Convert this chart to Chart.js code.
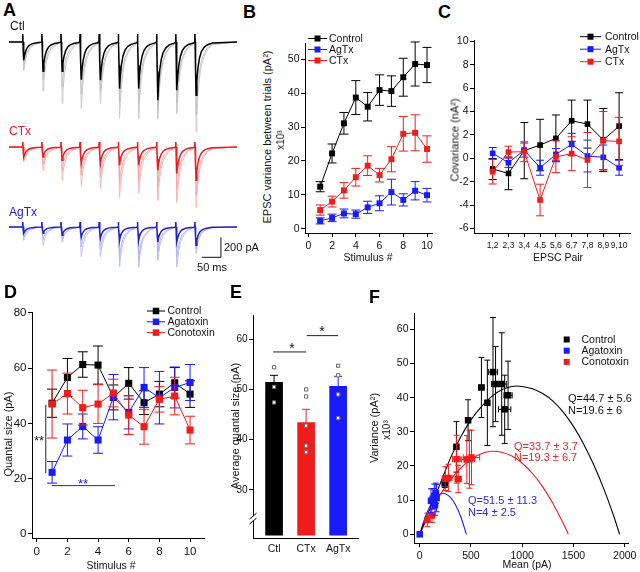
<!DOCTYPE html>
<html>
<head>
<meta charset="utf-8">
<script src="https://cdn.jsdelivr.net/npm/chart.js@4.4.1/dist/chart.umd.min.js"></script>
<style>
  body { margin: 0; background: #fff; }
  #fig { position: relative; width: 640px; height: 572px; overflow: hidden; font-family: "Liberation Sans", Arial, sans-serif; }
  #fig canvas { position: absolute; }
  .t { position: absolute; white-space: nowrap; line-height: 1; }
</style>
</head>
<body>
<div id="fig"></div>
<script>
// ---------- A: EPSC trains (peak amplitudes in pA) ----------
const stimTimes = [0, 50, 100, 150, 200, 250, 300, 350, 400, 450];
const ctlMean   = [183, 293, 293, 376, 383, 466, 466, 583, 483, 533];
const ctlTrialA = [283, 490, 616, 666, 616, 756, 766, 766, 716, 900];
const ctlTrialB = [240, 380, 450, 520, 500, 600, 620, 680, 600, 720];
const ctxMean   = [100, 100, 133, 166, 166, 183, 183, 233, 266, 333];
const ctxTrialA = [150, 233, 333, 383, 413, 503, 463, 533, 553, 603];
const ctxTrialB = [120, 170, 230, 280, 300, 360, 330, 400, 420, 480];
const agaMean   = [63, 63, 83, 100, 113, 133, 133, 150, 150, 183];
const agaTrialA = [133, 183, 150, 300, 300, 400, 400, 333, 400, 263];
const agaTrialB = [100, 130, 120, 200, 220, 300, 330, 250, 300, 220];
// one EPSC: ms after the stimulus, and fraction of the peak
const epscT     = [0, 0.8, 1.6, 2.6, 4, 6, 9, 13, 18, 25, 34, 47];
const epscMean  = [0, 0, 0, -0.5, -1, -0.72, -0.48, -0.3, -0.18, -0.1, -0.05, -0.02];
const epscTrial = [0, 0, 0, -0.45, -1, -0.8, -0.58, -0.4, -0.26, -0.16, -0.08, -0.03];
const artifactPA = [80, 50, 50];   // Ctl, CTx, AgTx

// ---------- B: variance between trials (x10^3 pA^2) ----------
const stimNum     = [1, 2, 3, 4, 5, 6, 7, 8, 9, 10];
const bControl    = [12.4, 22.2, 31.1, 38.7, 36.0, 40.9, 40.6, 44.7, 48.6, 48.3];
const bControlErr = [1.5, 2.8, 3.2, 5.0, 4.2, 4.5, 4.5, 5.6, 6.5, 5.2];
const bAgTx       = [2.3, 3.2, 4.5, 4.3, 6.3, 7.5, 10.8, 8.5, 11.2, 9.9];
const bAgTxErr    = [0.9, 1.1, 1.3, 1.2, 1.8, 2.2, 3.8, 1.8, 2.7, 2.0];
const bCTx        = [5.5, 8.0, 11.3, 15.2, 18.6, 15.8, 20.5, 28.0, 28.3, 23.5];
const bCTxErr     = [1.5, 1.6, 2.3, 2.6, 2.9, 2.0, 3.7, 5.1, 5.3, 3.9];
const bTicksX = [0, 2, 4, 6, 8, 10];
const bTicksY = [0, 10, 20, 30, 40, 50];
const bLabels = ['Control', 'AgTx', 'CTx'];

// ---------- C: covariance (nA^2) ----------
const cPairs      = ['1,2', '2,3', '3,4', '4,5', '5,6', '6,7', '7,8', '8,9', '9,10'];
const cControl    = [-0.91, -1.28, 0.66, 1.14, 1.71, 3.22, 2.93, 1.57, 2.76];
const cControlErr = [0.9, 1.4, 2.4, 2.2, 2.0, 1.76, 2.05, 2.7, 2.85];
const cAgTx       = [0.43, -0.37, 0.71, -0.8, 0.34, 1.2, 0.2, 0.09, -0.8];
const cAgTxErr    = [0.5, 0.4, 0.6, 0.64, 0.5, 0.94, 1.36, 1.05, 0.64];
const cCTx        = [-1.14, 0.54, 0.57, -3.56, 0.14, 0.4, -0.14, 1.51, 1.45];
const cCTxErr     = [1.05, 0.5, 0.85, 1.35, 1.36, 1.45, 2.35, 2.5, 2.05];
const cTicksY = [-6, -4, -2, 0, 2, 4, 6, 8, 10];

// ---------- D: quantal size (pA) ----------
const dControl    = [47.3, 56.6, 61.3, 61.1, 49.4, 54.5, 47.5, 50.6, 54.7, 50.6];
const dControlErr = [5.1, 6.9, 4.6, 6.9, 4.5, 5.7, 4.3, 4.6, 5.5, 4.8];
const dAga        = [22.3, 34.0, 38.9, 34.0, 49.5, 44.0, 53.0, 49.3, 53.0, 54.8];
const dAgaErr     = [3.9, 5.8, 4.5, 4.8, 8.2, 6.0, 7.2, 9.5, 7.4, 6.5];
const dCono       = [47.0, 50.8, 45.7, 47.0, 51.0, 43.0, 38.8, 48.7, 49.9, 37.6];
const dConoErr    = [12.3, 7.4, 6.3, 7.0, 5.0, 7.0, 6.3, 4.6, 6.8, 5.0];
const dTicksX = [0, 2, 4, 6, 8, 10];
const dTicksY = [0, 20, 40, 60, 80];
const dLabels = ['Control', 'Agatoxin', 'Conotoxin'];

// ---------- E: average quantal size (pA) ----------
const eGroups = ['Ctl', 'CTx', 'AgTx'];
const eMean   = [51.4, 43.4, 50.6];
const eSem    = [1.4, 2.65, 2.0];
const eCells  = [[54.4, 50.5, 47.4], [50.0, 48.6, 42.8, 38.8, 37.5], [54.7, 52.8, 49.0, 44.3]];
const eTicksY = [30, 40, 50, 60];

// ---------- F: variance-mean (mean pA, variance x10^3 pA^2) ----------
const fCtlMean    = [244, 358, 472, 602, 660, 715, 740, 800, 829, 862];
const fCtlVar     = [14.9, 25.6, 33.4, 43.0, 38.5, 47.5, 44.0, 44.0, 36.6, 40.7];
const fCtlMeanErr = [15, 20, 20, 25, 20, 45, 40, 45, 60, 40];
const fCtlVarErr  = [1.2, 7.4, 6.0, 8.8, 12.5, 16, 11, 15, 10, 10];
const fCtxMean    = [75, 120, 250, 280, 360, 375, 460, 485, 505];
const fCtxVar     = [4.2, 5.5, 16.3, 16.5, 22.0, 16.2, 21.9, 22.0, 22.5];
const fCtxMeanErr = [20, 15, 30, 35, 40, 30, 50, 50, 80];
const fCtxVarErr  = [2, 2, 3.5, 4, 7, 4, 7, 8.5, 8];
const fAgaMean    = [0, 110, 128, 143, 158, 150, 165];
const fAgaVar     = [0, 9.8, 10.4, 11.2, 12.0, 8.6, 10.6];
const fAgaMeanErr = [0, 15, 12, 15, 20, 15, 15];
const fAgaVarErr  = [0, 3.5, 3, 3.5, 3, 3, 4];
const fCtlFitX = [0, 100, 200, 300, 400, 500, 600, 700, 800, 900, 1000, 1100, 1200, 1300, 1400, 1500, 1600, 1700, 1800, 1900, 1950];
const fCtlFitY = [0, 7.5, 14.8, 22.3, 28.5, 33.5, 37.3, 40.3, 42.3, 43.3, 43.3, 42.6, 41.2, 39, 35.8, 31.6, 26.4, 20.2, 13, 4.7, 0];
const fCtxFitX = [0, 100, 200, 300, 400, 500, 600, 700, 800, 900, 1000, 1100, 1200, 1300, 1400, 1450];
const fCtxFitY = [0, 6.2, 11.6, 16, 19.4, 22, 23.6, 24.3, 24, 22.9, 20.8, 17.8, 13.9, 9, 3.2, 0];
const fAgaFitX = [0, 50, 100, 150, 200, 250, 300, 350, 400, 455];
const fAgaFitY = [0, 4.7, 8.2, 10.6, 11.8, 11.9, 10.8, 8.6, 5.2, 0];
const fTicksX = [0, 500, 1000, 1500, 2000];
const fTicksY = [0, 10, 20, 30, 40, 50, 60];
const fLabels = ['Control', 'Agatoxin', 'Conotoxin'];

// ---------------------------------------------------------------------------
const FONT = '"Liberation Sans", Arial, sans-serif';
const BLACK = '#000000', RED = '#f01c1c', BLUE = '#1a1aff';
const fig = document.getElementById('fig');
Chart.defaults.font.family = FONT;
Chart.defaults.color = '#111';

// error bars drawn under each dataset, through its scales
Chart.register({
  id: 'errorBars',
  beforeDatasetDraw(chart, args) {
    const ds = chart.data.datasets[args.index];
    if (!ds.errY && !ds.errX) return;
    const xs = chart.scales.x, ys = chart.scales.y, ctx = chart.ctx;
    const cap = ds.cap ?? 4;
    ctx.save();
    ctx.lineWidth = 1;
    ds.data.forEach((p, i) => {
      ctx.strokeStyle = Array.isArray(ds.errColor) ? ds.errColor[i] : (ds.errColor || ds.borderColor);
      const px = xs.getPixelForValue(p.x), py = ys.getPixelForValue(p.y);
      ctx.beginPath();
      if (ds.errY && ds.errY[i]) {
        const t = ys.getPixelForValue(p.y + ds.errY[i]);
        const b = ds.upOnly ? py : ys.getPixelForValue(p.y - ds.errY[i]);
        ctx.moveTo(px, t); ctx.lineTo(px, b);
        ctx.moveTo(px - cap, t); ctx.lineTo(px + cap, t);
        if (!ds.upOnly) { ctx.moveTo(px - cap, b); ctx.lineTo(px + cap, b); }
      }
      if (ds.errX && ds.errX[i]) {
        const l = xs.getPixelForValue(p.x - ds.errX[i]), r = xs.getPixelForValue(p.x + ds.errX[i]);
        ctx.moveTo(l, py); ctx.lineTo(r, py);
        ctx.moveTo(l, py - cap); ctx.lineTo(l, py + cap);
        ctx.moveTo(r, py - cap); ctx.lineTo(r, py + cap);
      }
      ctx.stroke();
    });
    ctx.restore();
  }
});

// legend: line + square (or square only), placed in page pixels
Chart.register({
  id: 'key',
  afterDraw(chart, args, o) {
    if (!o || !o.labels) return;
    const ctx = chart.ctx, ox = chart.canvas.offsetLeft, oy = chart.canvas.offsetTop;
    ctx.save();
    ctx.font = o.size + 'px ' + FONT;
    ctx.textBaseline = 'middle';
    o.labels.forEach((lab, i) => {
      const y = o.y + i * o.dy - oy, x = o.x - ox;
      ctx.strokeStyle = ctx.fillStyle = o.colors[i];
      ctx.lineWidth = 1;
      if (o.len) { ctx.beginPath(); ctx.moveTo(x, y); ctx.lineTo(x + o.len, y); ctx.stroke(); }
      const cx = x + (o.len || 0) / 2;
      ctx.fillRect(cx - o.sq / 2, y - o.sq / 2, o.sq, o.sq);
      ctx.fillStyle = '#111';
      ctx.fillText(lab, o.textX - ox, y + 0.5);
    });
    ctx.restore();
  }
});

// extra lines (significance bars, axis break) in data units
Chart.register({
  id: 'marks',
  afterDatasetsDraw(chart, args, o) {
    if (!o || !o.lines) return;
    const xs = chart.scales.x, ys = chart.scales.y, ctx = chart.ctx;
    ctx.save();
    ctx.lineWidth = 1;
    o.lines.forEach(m => {
      ctx.strokeStyle = m.color;
      ctx.beginPath();
      ctx.moveTo(xs.getPixelForValue(m.x1), ys.getPixelForValue(m.y1));
      ctx.lineTo(xs.getPixelForValue(m.x2), ys.getPixelForValue(m.y2));
      ctx.stroke();
    });
    if (o.brk != null) {
      const x = chart.chartArea.left, y = ys.getPixelForValue(o.brk);
      ctx.fillStyle = '#fff';
      ctx.fillRect(x - 2, y - 2.5, 4, 5);
      ctx.strokeStyle = '#000';
      ctx.beginPath();
      ctx.moveTo(x - 3.5, y + 0.5); ctx.lineTo(x + 3.5, y - 5.5);
      ctx.moveTo(x - 3.5, y + 5.5); ctx.lineTo(x + 3.5, y - 0.5);
      ctx.stroke();
    }
    ctx.restore();
  }
});

// scale bar for the traces
Chart.register({
  id: 'scaleBar',
  afterDraw(chart, args, o) {
    if (!o || o.ms == null) return;
    const xs = chart.scales.x, ys = chart.scales.y, ctx = chart.ctx;
    const x2 = xs.getPixelForValue(o.x), x1 = xs.getPixelForValue(o.x - o.ms);
    const y1 = ys.getPixelForValue(o.y), y2 = ys.getPixelForValue(o.y + o.pA);
    ctx.save();
    ctx.strokeStyle = '#111';
    ctx.lineWidth = 1;
    ctx.beginPath();
    ctx.moveTo(x1, y1); ctx.lineTo(x2, y1); ctx.lineTo(x2, y2);
    ctx.stroke();
    ctx.restore();
  }
});

function makeChart(area, gut, cfg) {
  const [l, t, r, b] = gut;
  const w = area[2] - area[0] + l + r, h = area[3] - area[1] + t + b;
  const cv = document.createElement('canvas');
  cv.width = w; cv.height = h;
  Object.assign(cv.style, { left: (area[0] - l) + 'px', top: (area[1] - t) + 'px', width: w + 'px', height: h + 'px' });
  fig.appendChild(cv);
  cfg.options = Object.assign({ responsive: false, animation: false, events: [],
    layout: { padding: { left: 0, top: t, right: r, bottom: 0 } } }, cfg.options);
  const sc = cfg.options.scales;
  if (sc.x.display !== false) sc.x.afterFit = s => { s.height = b; s.paddingLeft = 0; s.paddingRight = 0; };
  if (sc.y.display !== false) sc.y.afterFit = s => { s.width = l; s.paddingTop = 0; s.paddingBottom = 0; };
  cfg.options.plugins = Object.assign({ legend: { display: false }, tooltip: { enabled: false } }, cfg.options.plugins);
  return new Chart(cv, cfg);
}

function axis(min, max, ticks, o = {}) {
  return {
    type: 'linear', min, max, offset: false,
    afterBuildTicks: s => { s.ticks = ticks.map(v => ({ value: v })); },
    ticks: { callback: (v, i) => (o.labels ? o.labels[i] : v), font: { size: o.size || 10.5 },
             color: '#111', padding: o.pad ?? 1.5, maxRotation: 0, autoSkip: false },
    grid: { drawOnChartArea: false, drawTicks: !o.noTicks, tickLength: 4, color: '#000', lineWidth: 1, offset: false },
    border: { display: true, color: '#000', width: 1 },
  };
}

const pts = (xs, ys) => xs.map((x, i) => ({ x, y: ys[i] }));

function series(label, xs, ys, err, color, r, order, extra = {}) {
  return Object.assign({ label, data: pts(xs, ys), errY: err, borderColor: color, backgroundColor: color,
    showLine: true, borderWidth: 1, pointStyle: 'rect', pointRadius: r, pointBorderWidth: 0,
    tension: 0, clip: false, order, cap: 4.5 }, extra);
}

function txt(s, x, y, o = {}) {
  const d = document.createElement('div');
  d.className = 't';
  d.textContent = s;
  d.style.left = x + 'px';
  d.style.top = y + 'px';
  d.style.fontSize = (o.size || 11) + 'px';
  d.style.color = o.color || '#111';
  if (o.bold) d.style.fontWeight = 'bold';
  d.style.transform = 'translate(' + (o.left ? '0' : '-50%') + ', -50%)' + (o.rot ? ' rotate(-90deg)' : '');
  fig.appendChild(d);
}

// ---------- A ----------
function train(peaks, shape, art) {
  const out = [{ x: -35, y: 0 }];
  stimTimes.forEach((t0, i) => {
    epscT.forEach((dt, k) => out.push({ x: t0 + dt, y: k === 1 ? art : peaks[i] * shape[k] }));
  });
  out.push({ x: 561, y: 0 });
  return out;
}
function trainChart(area, rows, bar) {
  return makeChart(area, [0, 0, 0, 0], {
    type: 'scatter',
    data: { datasets: rows.map(([d, color, w, order]) => ({ data: d, showLine: true, borderColor: color,
      borderWidth: w, pointRadius: 0, tension: 0, clip: false, order })) },
    options: { scales: { x: { display: false, min: -35, max: 561 }, y: { display: false, min: -1000, max: 150 } },
               plugins: { scaleBar: bar || {} } },
  });
}
trainChart([9, 27, 237, 142], [
  [train(ctlTrialA, epscTrial, artifactPA[0]), '#cbcbcb', 1, 2],
  [train(ctlTrialB, epscTrial, artifactPA[0]), '#c2c2c2', 1, 1],
  [train(ctlMean, epscMean, artifactPA[0]), '#000', 1.5, 0],
]);
trainChart([9, 132, 237, 247], [
  [train(ctxTrialA, epscTrial, artifactPA[1]), '#f7b8b8', 1, 2],
  [train(ctxTrialB, epscTrial, artifactPA[1]), '#f4a9a9', 1, 1],
  [train(ctxMean, epscMean, artifactPA[1]), '#ea1d24', 1.5, 0],
]);
trainChart([9, 212, 237, 327], [
  [train(agaTrialA, epscTrial, artifactPA[2]), '#bfc2f4', 1, 2],
  [train(agaTrialB, epscTrial, artifactPA[2]), '#b3b7f2', 1, 1],
  [train(agaMean, epscMean, artifactPA[2]), '#2222cc', 1.5, 0],
], { x: 519, y: -303, ms: 50, pA: 200 });

// ---------- B ----------
makeChart([305, 43, 432, 233], [30, 12, 10, 30], {
  type: 'scatter',
  data: { datasets: [
    series(bLabels[0], stimNum, bControl, bControlErr, BLACK, 4.2, 2),
    series(bLabels[1], stimNum, bAgTx, bAgTxErr, BLUE, 4.2, 1),
    series(bLabels[2], stimNum, bCTx, bCTxErr, RED, 4.2, 0),
  ] },
  options: {
    scales: { x: axis(-0.28, 10.42, bTicksX, { pad: 3 }), y: axis(-1.27, 54.8, bTicksY) },
    plugins: { key: { labels: bLabels, colors: [BLACK, BLUE, RED], x: 308, y: 38.5, dy: 11, len: 19, sq: 6, textX: 329, size: 10.5 } },
  },
});

// ---------- C ----------
const pairIdx = cPairs.map((p, i) => i + 1);
makeChart([474, 40, 630, 233], [30, 12, 10, 28], {
  type: 'scatter',
  data: { datasets: [
    series(bLabels[0], pairIdx, cControl, cControlErr, BLACK, 4, 2, { cap: 4 }),
    series(bLabels[1], pairIdx, cAgTx, cAgTxErr, BLUE, 4, 1, { cap: 4 }),
    series(bLabels[2], pairIdx, cCTx, cCTxErr, RED, 4, 0, { cap: 4 }),
  ] },
  options: {
    scales: { x: axis(-0.18, 9.69, pairIdx, { labels: cPairs, size: 8.5, pad: 4 }), y: axis(-6.38, 10.12, cTicksY) },
    plugins: { key: { labels: bLabels, colors: [BLACK, BLUE, RED], x: 580, y: 36.7, dy: 12.5, len: 21, sq: 6, textX: 605, size: 10.5 } },
  },
});

// ---------- D ----------
makeChart([32, 312, 204, 538], [32, 8, 38, 30], {
  type: 'scatter',
  data: { datasets: [
    series(dLabels[0], stimNum, dControl, dControlErr, BLACK, 5, 2, { cap: 5 }),
    series(dLabels[1], stimNum, dAga, dAgaErr, BLUE, 5, 1, { cap: 5 }),
    series(dLabels[2], stimNum, dCono, dConoErr, RED, 5, 0, { cap: 5 }),
  ] },
  options: {
    scales: { x: axis(-0.31, 10.91, dTicksX, { size: 11.5, pad: 3 }), y: axis(-1.45, 80.3, dTicksY, { size: 11.5 }) },
    plugins: {
      key: { labels: dLabels, colors: [BLACK, BLUE, RED], x: 147, y: 311, dy: 10.8, len: 18, sq: 6.5, textX: 167.5, size: 10.5 },
      marks: { lines: [
        { x1: 0.59, y1: 46.7, x2: 0.59, y2: 22, color: '#222' },
        { x1: 0.98, y1: 17.5, x2: 5.1, y2: 17.5, color: BLUE },
      ] },
    },
  },
});

// ---------- E ----------
const groupIdx = eGroups.map((g, i) => i + 1);
makeChart([253, 315, 358, 538], [22, 6, 6, 25], {
  type: 'bar',
  data: { datasets: [
    { type: 'scatter', data: eCells.flatMap((vals, g) => vals.map(v => ({ x: g + 1, y: v }))),
      pointStyle: 'rect', pointRadius: 2.3, backgroundColor: '#fff', borderColor: '#6a6a6a', borderWidth: 1, order: 0 },
    { data: pts(groupIdx, eMean), errY: eSem, upOnly: true, cap: 4, errColor: [BLACK, RED, BLUE],
      backgroundColor: [BLACK, RED, BLUE], base: 21, barThickness: 17, order: 1 },
  ] },
  options: {
    scales: { x: axis(0.342, 3.62, groupIdx, { labels: eGroups, size: 10.5, noTicks: true, pad: 5 }),
              y: axis(20.44, 64.8, eTicksY, { size: 10 }) },
    plugins: { marks: { brk: 24.3, lines: [
      { x1: 0.97, y1: 57.45, x2: 2.0, y2: 57.45, color: '#222' },
      { x1: 2.02, y1: 60.7, x2: 3.0, y2: 60.7, color: '#222' },
    ] } },
  },
});

// ---------- F ----------
function fit(xs, ys, color) {
  return { data: pts(xs, ys), showLine: true, borderColor: color, borderWidth: 1.1, pointRadius: 0,
           tension: 0.3, clip: false, order: 3 };
}
function cloud(xs, ys, ex, ey, color, order) {
  return { data: pts(xs, ys), errX: ex, errY: ey, cap: 3, borderColor: color, backgroundColor: color,
           pointStyle: 'rect', pointRadius: 4.6, pointBorderWidth: 0, showLine: false, clip: false, order };
}
makeChart([414, 313, 628, 543], [24, 8, 12, 26], {
  type: 'scatter',
  data: { datasets: [
    fit(fCtlFitX, fCtlFitY, BLACK),
    fit(fCtxFitX, fCtxFitY, RED),
    fit(fAgaFitX, fAgaFitY, BLUE),
    cloud(fCtlMean, fCtlVar, fCtlMeanErr, fCtlVarErr, BLACK, 2),
    cloud(fCtxMean, fCtxVar, fCtxMeanErr, fCtxVarErr, RED, 1),
    cloud(fAgaMean, fAgaVar, fAgaMeanErr, fAgaVarErr, BLUE, 0),
  ] },
  options: {
    scales: { x: axis(-55.6, 2032, fTicksX, { pad: 3 }), y: axis(-2.55, 64.8, fTicksY) },
    plugins: { key: { labels: fLabels, colors: [BLACK, BLUE, RED], x: 566.7, y: 339.5, dy: 11.2, len: 0, sq: 6, textX: 581.5, size: 10.5 } },
  },
});

// ---------- text ----------
txt('A', 3, 10, { size: 18, bold: true, left: true, color: '#000' });
txt('B', 243, 12, { size: 18, bold: true, left: true, color: '#000' });
txt('C', 438, 12, { size: 18, bold: true, left: true, color: '#000' });
txt('D', 4, 292, { size: 18, bold: true, left: true, color: '#000' });
txt('E', 230, 292, { size: 18, bold: true, left: true, color: '#000' });
txt('F', 369, 297, { size: 18, bold: true, left: true, color: '#000' });

txt('Ctl', 10, 26, { size: 12, left: true });
txt('CTx', 9, 131, { size: 12, left: true, color: '#ea1d24' });
txt('AgTx', 9, 212, { size: 12, left: true, color: '#2222cc' });
txt('200 pA', 224, 247, { size: 11, left: true });
txt('50 ms', 212, 267, { size: 11 });

txt('EPSC variance between trials (pA²)', 266.5, 137, { size: 11, rot: true });
txt('x10³', 281, 140, { size: 10, rot: true });
txt('Stimulus #', 368, 257, { size: 10.5 });

txt('Covariance (nA²)', 455, 140, { size: 11, rot: true });
txt('EPSC Pair', 558, 257, { size: 10.5 });

txt('Quantal size (pA)', 8, 434, { size: 11, rot: true });
txt('Stimulus #', 111, 565, { size: 10.5 });
txt('**', 39, 440, { size: 13 });
txt('**', 83, 483, { size: 13, color: BLUE });

txt('Average quantal size (pA)', 235, 426, { size: 11, rot: true });
txt('*', 292, 348, { size: 14 });
txt('*', 322, 331, { size: 14 });

txt('Variance (pA²)', 374, 428, { size: 11, rot: true });
txt('x10³', 387, 430, { size: 10, rot: true });
txt('Mean (pA)', 527, 564, { size: 10.5 });
txt('Q=44.7 ± 5.6', 568, 398, { size: 11, left: true });
txt('N=19.6 ± 6', 568, 410, { size: 11, left: true });
txt('Q=33.7 ± 3.7', 514, 445.5, { size: 11, left: true, color: '#e8262b' });
txt('N=19.3 ± 6.7', 514, 457, { size: 11, left: true, color: '#e8262b' });
txt('Q=51.5 ± 11.3', 468, 500, { size: 11, left: true, color: '#2a2ad8' });
txt('N=4 ± 2.5', 468, 512, { size: 11, left: true, color: '#2a2ad8' });
</script>
</body>
</html>
